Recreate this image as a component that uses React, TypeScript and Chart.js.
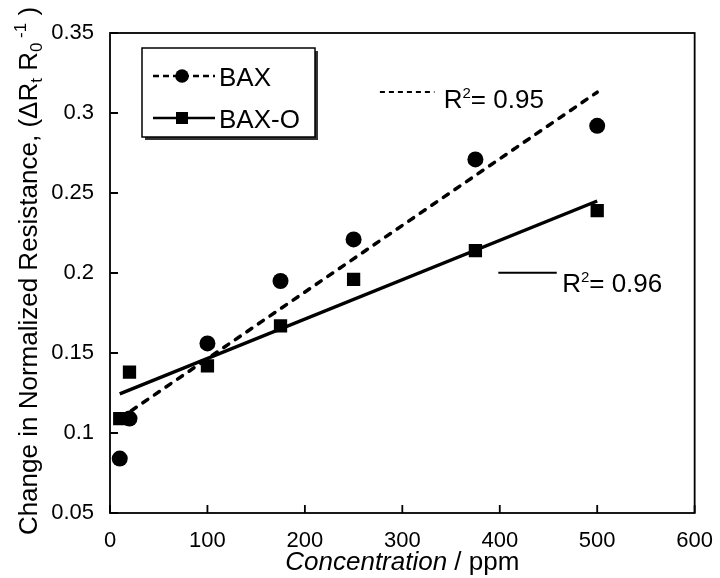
import React, { useEffect, useRef } from "react";
import { Chart, registerables } from "chart.js";

Chart.register(...registerables);

// ---- data ----
const concentrations = [10, 20, 100, 175, 250, 375, 500];
const baxValues = [0.084, 0.109, 0.156, 0.195, 0.221, 0.271, 0.292];
const baxOValues = [0.109, 0.138, 0.142, 0.167, 0.196, 0.214, 0.239];
const fitX = [10, 500];
const baxFit = [0.109, 0.313];
const baxOFit = [0.1245, 0.245];
const seriesNames = ["BAX", "BAX-O"];
const r2Values = ["0.95", "0.96"];
const xTickValues = [0, 100, 200, 300, 400, 500, 600];
const yTickValues = [0.05, 0.1, 0.15, 0.2, 0.25, 0.3, 0.35];

// annotation anchor positions (data units)
const r2Anchors = [
  { x0: 277, x1: 333, y: 0.3131, tx: 342.5 },
  { x0: 398.5, x1: 458.5, y: 0.2002, tx: 464 },
];

const FONT = "'Liberation Sans', Arial, sans-serif";

const decorPlugin = {
  id: "decor",
  afterDraw(chart: any) {
    const ctx = chart.ctx as CanvasRenderingContext2D;
    const ca = chart.chartArea;
    const xs = chart.scales.x;
    const ys = chart.scales.y;
    ctx.save();
    ctx.strokeStyle = "#000";
    ctx.fillStyle = "#000";
    // frame
    ctx.lineWidth = 1.8;
    ctx.strokeRect(ca.left, ca.top, ca.right - ca.left, ca.bottom - ca.top);
    // inward ticks
    ctx.lineWidth = 1.8;
    ctx.beginPath();
    xTickValues.forEach((v) => {
      const px = xs.getPixelForValue(v);
      ctx.moveTo(px, ca.bottom);
      ctx.lineTo(px, ca.bottom - 8);
    });
    yTickValues.forEach((v) => {
      const py = ys.getPixelForValue(v);
      ctx.moveTo(ca.left, py);
      ctx.lineTo(ca.left + 8, py);
    });
    ctx.stroke();

    // legend box
    const lx = ca.left + 32;
    const ly = ca.top + 15;
    const lw = 173;
    const lh = 89;
    ctx.fillStyle = "#333";
    ctx.fillRect(lx + 3, ly + 3, lw, lh);
    ctx.fillStyle = "#fff";
    ctx.fillRect(lx, ly, lw, lh);
    ctx.lineWidth = 1.5;
    ctx.strokeStyle = "#000";
    ctx.strokeRect(lx, ly, lw, lh);
    ctx.fillStyle = "#000";
    const rows = [ly + 28, ly + 70];
    rows.forEach((ry, i) => {
      ctx.beginPath();
      ctx.lineWidth = 2.5;
      ctx.setLineDash(i === 0 ? [6, 4] : []);
      ctx.moveTo(lx + 11, ry);
      ctx.lineTo(lx + 73, ry);
      ctx.stroke();
      ctx.setLineDash([]);
      ctx.beginPath();
      if (i === 0) {
        ctx.arc(lx + 40, ry, 6.8, 0, Math.PI * 2);
        ctx.fill();
      } else {
        ctx.fillRect(lx + 40 - 6, ry - 6, 12, 12);
      }
      ctx.font = `26px ${FONT}`;
      ctx.textBaseline = "alphabetic";
      ctx.textAlign = "left";
      ctx.fillText(seriesNames[i], lx + 77, ry + 9.5);
    });

    // R^2 annotations
    r2Anchors.forEach((a, i) => {
      const x0 = xs.getPixelForValue(a.x0);
      const x1 = xs.getPixelForValue(a.x1);
      const y = ys.getPixelForValue(a.y);
      const tx = xs.getPixelForValue(a.tx);
      ctx.beginPath();
      ctx.lineWidth = 2;
      ctx.setLineDash(i === 0 ? [5, 4] : []);
      ctx.moveTo(x0, y);
      ctx.lineTo(x1, y);
      ctx.stroke();
      ctx.setLineDash([]);
      ctx.textBaseline = "alphabetic";
      ctx.textAlign = "left";
      const base = y + 16 + i * 3;
      ctx.font = `26px ${FONT}`;
      ctx.fillText("R", tx, base);
      let cx = tx + ctx.measureText("R").width;
      ctx.font = `15px ${FONT}`;
      ctx.fillText("2", cx, base - 10);
      cx += ctx.measureText("2").width;
      ctx.font = `26px ${FONT}`;
      ctx.fillText("= " + r2Values[i], cx, base);
    });

    // x-axis title
    ctx.textBaseline = "alphabetic";
    const xt1 = "Concentration";
    const xt2 = " / ppm";
    ctx.font = `italic 26px ${FONT}`;
    const w1 = ctx.measureText(xt1).width;
    ctx.font = `26px ${FONT}`;
    const w2 = ctx.measureText(xt2).width;
    const xc = (ca.left + ca.right) / 2;
    const xStart = xc - (w1 + w2) / 2;
    ctx.font = `italic 26px ${FONT}`;
    ctx.fillText(xt1, xStart, 570);
    ctx.font = `26px ${FONT}`;
    ctx.fillText(xt2, xStart + w1, 570);

    // y-axis title (rotated), segments with sub/superscripts
    const segs = [
      { t: "Change in Normalized Resistance, (\u0394R", s: 26, dy: 0 },
      { t: "t", s: 17, dy: 5 },
      { t: " R", s: 26, dy: 0 },
      { t: "0", s: 17, dy: 5 },
      { t: " -1", s: 17, dy: -11 },
      { t: " )", s: 26, dy: 0 },
    ];
    let total = 0;
    segs.forEach((sg) => {
      ctx.font = `${sg.s}px ${FONT}`;
      total += ctx.measureText(sg.t).width;
    });
    ctx.save();
    ctx.translate(37, 271);
    ctx.rotate(-Math.PI / 2);
    let px = -total / 2;
    segs.forEach((sg) => {
      ctx.font = `${sg.s}px ${FONT}`;
      ctx.fillText(sg.t, px, sg.dy);
      px += ctx.measureText(sg.t).width;
    });
    ctx.restore();

    ctx.restore();
  },
};

export default function App() {
  const ref = useRef<HTMLCanvasElement | null>(null);
  useEffect(() => {
    if (!ref.current) return;
    const pts = (ys: number[]) => concentrations.map((x, i) => ({ x, y: ys[i] }));
    const fit = (ys: number[]) => fitX.map((x, i) => ({ x, y: ys[i] }));
    const chart = new Chart(ref.current, {
      type: "scatter",
      data: {
        datasets: [
          {
            label: seriesNames[0],
            data: pts(baxValues),
            pointStyle: "circle",
            pointRadius: 8,
            backgroundColor: "#000",
            borderColor: "#000",
            borderWidth: 0,
            showLine: false,
          },
          {
            label: seriesNames[1],
            data: pts(baxOValues),
            pointStyle: "rect",
            pointRadius: 9.4,
            backgroundColor: "#000",
            borderColor: "#000",
            borderWidth: 0,
            showLine: false,
          },
          {
            label: "BAX fit",
            data: fit(baxFit),
            showLine: true,
            pointRadius: 0,
            borderColor: "#000",
            borderWidth: 3.5,
            borderDash: [6, 8],
            borderCapStyle: "round",
          },
          {
            label: "BAX-O fit",
            data: fit(baxOFit),
            showLine: true,
            pointRadius: 0,
            borderColor: "#000",
            borderWidth: 3.5,
          },
        ],
      } as any,
      options: {
        animation: false,
        responsive: true,
        maintainAspectRatio: false,
        layout: { padding: { left: 0, right: 21, top: 33, bottom: 0 } },
        plugins: { legend: { display: false }, tooltip: { enabled: false } },
        scales: {
          x: {
            type: "linear",
            min: 0,
            max: 600,
            afterBuildTicks: (s: any) => {
              s.ticks = xTickValues.map((v) => ({ value: v }));
            },
            afterFit: (s: any) => {
              s.height = 65;
            },
            grid: { display: false },
            border: { display: false },
            ticks: {
              color: "#000",
              padding: 7,
              maxRotation: 0,
              font: { family: FONT, size: 22 },
              callback: (v: any) => String(v),
            },
          },
          y: {
            type: "linear",
            min: 0.05,
            max: 0.35,
            afterBuildTicks: (s: any) => {
              s.ticks = yTickValues.map((v) => ({ value: v }));
            },
            afterFit: (s: any) => {
              s.width = 110;
            },
            grid: { display: false },
            border: { display: false },
            ticks: {
              color: "#000",
              padding: 8,
              font: { family: FONT, size: 22 },
              callback: (v: any) => String(Number(Number(v).toFixed(2))),
            },
          },
        },
      } as any,
      plugins: [decorPlugin],
    });
    return () => chart.destroy();
  }, []);
  return (
    <div style={{ position: "fixed", left: 0, top: 0, width: 720, height: 578, background: "#fff" }}>
      <canvas ref={ref} />
    </div>
  );
}
